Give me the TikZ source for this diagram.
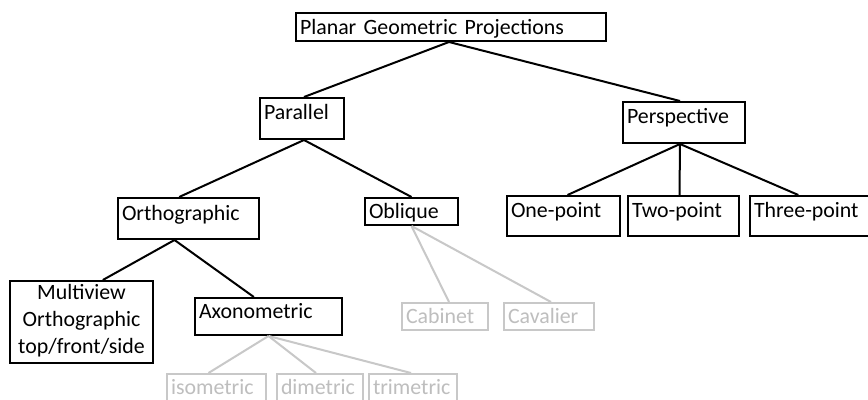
\documentclass[tikz,border=0pt]{standalone}
\usepackage{fontspec}
\setmainfont{Carlito}
\usetikzlibrary{calc}
\definecolor{lightgr}{RGB}{200,200,200}
\definecolor{lighttx}{RGB}{190,190,190}
\tikzset{
  box/.style={draw=black, line width=1.5pt, rectangle, anchor=north west,
    inner xsep=3pt, inner ysep=0pt, align=left, font=\fontsize{16.4}{20.25}\selectfont},
  gbox/.style={box, draw=lightgr, text=lighttx},
  conn/.style={draw=black, line width=1.5pt},
  gconn/.style={draw=lightgr, line width=1.5pt},
}
\begin{document}
\begin{tikzpicture}[x=0.75pt, y=-0.75pt]
\clip (0,0) rectangle (868,400);
\fill[white] (0,0) rectangle (868,400);
% level 0
\node[box, text width=226.5pt, text height=15.75pt, text depth=5.25pt] (planar) at (295,12) {Planar Geometric Projections};
% level 1
\node[box, text width=57pt, text height=15.75pt, text depth=15pt] (parallel) at (259,97) {Parallel};
\node[box, text width=85.5pt, text height=15.75pt, text depth=15pt] (persp) at (622,101) {Perspective};
% level 2
\node[box, text width=99.75pt, text height=16.5pt, text depth=14.25pt] (ortho) at (117,197) {Orthographic};
\node[box, text width=63.75pt, text height=15pt, text depth=5.25pt] (oblique) at (364,197) {Oblique};
\node[box, text width=78.75pt, text height=15.75pt, text depth=14.25pt] (one) at (506,195) {One-point};
\node[box, text width=77.25pt, text height=15.75pt, text depth=14.25pt] (two) at (627,195) {Two-point};
\node[box, text width=88.5pt, text height=15.75pt, text depth=14.25pt] (three) at (749,195) {Three-point};
% level 3
\node[box, text width=101.25pt, text height=13.5pt, text depth=48pt, align=center] (multi) at (9,280) {Multiview\\Orthographic\\top/front/side};
\node[box, text width=104.25pt, text height=15pt, text depth=12.75pt] (axono) at (194,297) {Axonometric};
\node[gbox, text width=58.5pt, text height=15pt, text depth=5.25pt] (cabinet) at (401,302) {Cabinet};
\node[gbox, text width=61.5pt, text height=15pt, text depth=5.25pt] (cavalier) at (503,302) {Cavalier};
% level 4
\node[gbox, text width=68.25pt, text height=15pt, text depth=9pt] (iso) at (166,373) {isometric};
\node[gbox, text width=58.5pt, text height=15pt, text depth=9pt] (di) at (276,373) {dimetric};
\node[gbox, text width=60pt, text height=15pt, text depth=9pt] (tri) at (368,373) {trimetric};
% connectors
\draw[conn] ([xshift=-1.5pt]planar.south) -- ([xshift=1.5pt]parallel.north);
\draw[conn] ([xshift=-1.5pt]planar.south) -- ([xshift=-3pt]persp.north);
\draw[conn] ([xshift=1.5pt]parallel.south) -- ([xshift=-7pt]ortho.north);
\draw[conn] ([xshift=1.5pt]parallel.south) -- (oblique.north);
\draw[conn] ([xshift=-3pt]persp.south) -- ([xshift=3pt]one.north);
\draw[conn] ([xshift=-3pt]persp.south) -- ([xshift=-3pt]two.north);
\draw[conn] ([xshift=-3pt]persp.south) -- ([xshift=-11pt]three.north);
\draw[conn] ([xshift=-10.5pt]ortho.south) -- ([xshift=16pt]multi.north);
\draw[conn] ([xshift=-10.5pt]ortho.south) -- ([xshift=-11pt]axono.north);
\draw[gconn] (oblique.south) -- ([xshift=3pt]cabinet.north);
\draw[gconn] (oblique.south) -- ([xshift=1.5pt]cavalier.north);
\draw[gconn] (axono.south) -- ([xshift=-6pt]iso.north);
\draw[gconn] (axono.south) -- ([xshift=-3pt]di.north);
\draw[gconn] (axono.south) -- ([xshift=-1.5pt]tri.north);
\end{tikzpicture}
\end{document}
